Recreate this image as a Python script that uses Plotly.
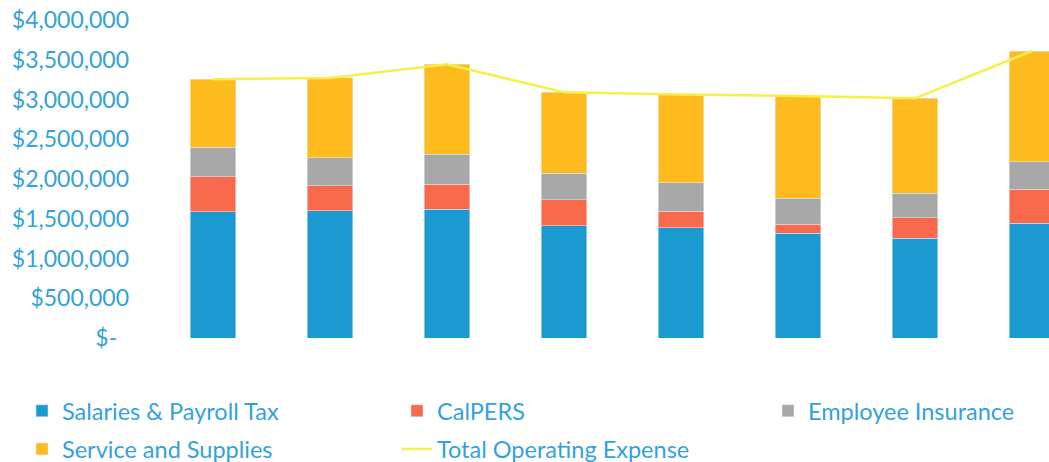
import plotly.graph_objects as go

categories = ["1", "2", "3", "4", "5", "6", "7", "8"]
salaries = [1590000, 1600000, 1620000, 1410000, 1390000, 1317000, 1254000, 1443000]
calpers = [440000, 315000, 315000, 327000, 205000, 117000, 259000, 427000]
insurance = [370000, 350000, 377000, 336000, 357000, 323000, 307000, 348000]
services = [855000, 1006000, 1130000, 1018000, 1111000, 1287000, 1195000, 1392000]
total = [3255000, 3271000, 3442000, 3091000, 3063000, 3044000, 3015000, 3610000]

tick_vals = [0, 500000, 1000000, 1500000, 2000000, 2500000, 3000000, 3500000, 4000000]
tick_text = ["$-\u00a0\u00a0", "$500,000", "$1,000,000", "$1,500,000", "$2,000,000",
             "$2,500,000", "$3,000,000", "$3,500,000", "$4,000,000"]

TXT = "#34A2DA"
FONT = "Lato"

fig = go.Figure()
fig.add_trace(go.Bar(x=categories, y=salaries, name="Salaries & Payroll Tax",
                     marker_color="#1B9AD2", legend="legend", legendgroup="a"))
fig.add_trace(go.Bar(x=categories, y=calpers, name="CalPERS",
                     marker_color="#F96A4C", legend="legend2", legendgroup="b"))
fig.add_trace(go.Bar(x=categories, y=insurance, name="Employee Insurance",
                     marker_color="#A8A8A8", legend="legend3", legendgroup="c"))
fig.add_trace(go.Bar(x=categories, y=services, name="Service and Supplies",
                     marker_color="#FEBB1E", legend="legend", legendgroup="d"))
fig.add_trace(go.Scatter(x=categories, y=total, name="Total Operating Expense",
                         mode="lines", line=dict(color="#F5F048", width=2.5),
                         legend="legend2", legendgroup="e"))

L, W = 150, 1049
H = 500          # taller canvas; the browser window shows the top 462 px
TOP, BOT = 20, 338
pw = W - L
band = 117.0
r0 = -(213 - L) / band
r1 = r0 + pw / band

def px(xp):
    return (xp - L) / pw

def py(yp):
    return (BOT - yp) / float(BOT - TOP)

leg_common = dict(font=dict(family=FONT, size=23.5, color=TXT), bgcolor="rgba(0,0,0,0)",
                  orientation="v", yanchor="top", xanchor="left", tracegroupgap=4.6)

LEG_TOP = 389
fig.update_layout(
    width=W, height=H,
    margin=dict(l=L, r=0, t=TOP, b=H - BOT),
    paper_bgcolor="white", plot_bgcolor="white",
    barmode="stack", bargap=0.607,
    showlegend=True,
    legend=dict(x=px(22), y=py(LEG_TOP), **leg_common),
    legend2=dict(x=px(397), y=py(LEG_TOP), **leg_common),
    legend3=dict(x=px(768), y=py(LEG_TOP), **leg_common),
    xaxis=dict(range=[r0, r1], showticklabels=False, showgrid=False, zeroline=False,
               showline=False, ticks=""),
    yaxis=dict(range=[0, 4000000], tickvals=tick_vals, ticktext=tick_text,
               showgrid=False, zeroline=False, showline=False, ticks="",
               ticklabelstandoff=20,
               tickfont=dict(family=FONT, size=23, color=TXT)),
)

fig.write_html("out.html", config={"displayModeBar": False},
               post_script="document.body.style.margin='0';document.body.style.overflow='hidden';")
